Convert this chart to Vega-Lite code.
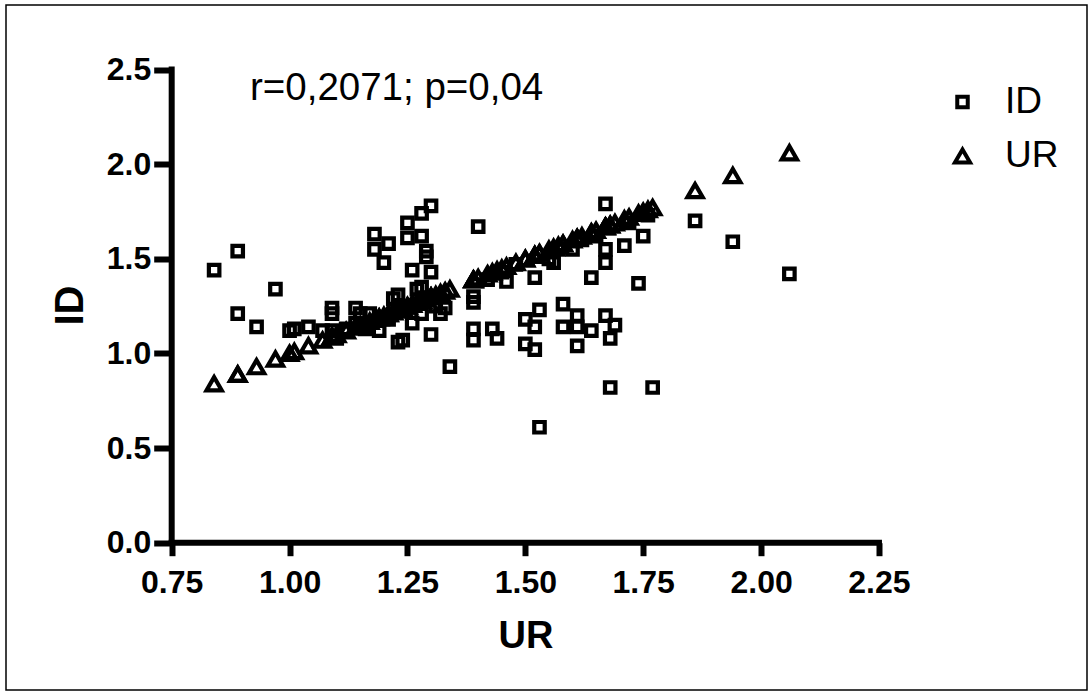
{
  "$schema": "https://vega.github.io/schema/vega-lite/v6.json",
  "width": 1081,
  "height": 685,
  "autosize": {"type": "none"},
  "padding": {"left": 6, "top": 5, "right": 5, "bottom": 2},
  "background": "white",
  "config": {
    "view": {"stroke": "black", "strokeWidth": 1.5},
    "font": "Liberation Sans",
    "axis": {"grid": false}
  },
  "datasets": {
    "subjects": [
      {"UR": 0.84, "ID": 1.44}, {"UR": 0.89, "ID": 1.54}, {"UR": 0.89, "ID": 1.21},
      {"UR": 0.93, "ID": 1.14}, {"UR": 0.97, "ID": 1.34}, {"UR": 1.00, "ID": 1.12},
      {"UR": 1.01, "ID": 1.13}, {"UR": 1.04, "ID": 1.14}, {"UR": 1.07, "ID": 1.12},
      {"UR": 1.09, "ID": 1.24}, {"UR": 1.09, "ID": 1.21}, {"UR": 1.09, "ID": 1.12},
      {"UR": 1.10, "ID": 1.08}, {"UR": 1.12, "ID": 1.13}, {"UR": 1.14, "ID": 1.24},
      {"UR": 1.14, "ID": 1.16}, {"UR": 1.15, "ID": 1.21}, {"UR": 1.16, "ID": 1.13},
      {"UR": 1.17, "ID": 1.21}, {"UR": 1.18, "ID": 1.63}, {"UR": 1.18, "ID": 1.55},
      {"UR": 1.19, "ID": 1.19}, {"UR": 1.19, "ID": 1.12}, {"UR": 1.20, "ID": 1.48},
      {"UR": 1.21, "ID": 1.58}, {"UR": 1.21, "ID": 1.18}, {"UR": 1.22, "ID": 1.29},
      {"UR": 1.23, "ID": 1.31}, {"UR": 1.23, "ID": 1.06}, {"UR": 1.24, "ID": 1.07},
      {"UR": 1.25, "ID": 1.61}, {"UR": 1.25, "ID": 1.69}, {"UR": 1.26, "ID": 1.44},
      {"UR": 1.26, "ID": 1.16}, {"UR": 1.27, "ID": 1.34}, {"UR": 1.28, "ID": 1.74},
      {"UR": 1.28, "ID": 1.62}, {"UR": 1.28, "ID": 1.35}, {"UR": 1.28, "ID": 1.21},
      {"UR": 1.29, "ID": 1.54}, {"UR": 1.29, "ID": 1.51}, {"UR": 1.30, "ID": 1.78},
      {"UR": 1.30, "ID": 1.43}, {"UR": 1.30, "ID": 1.10}, {"UR": 1.31, "ID": 1.25},
      {"UR": 1.32, "ID": 1.21}, {"UR": 1.33, "ID": 1.24}, {"UR": 1.34, "ID": 0.93},
      {"UR": 1.39, "ID": 1.30}, {"UR": 1.39, "ID": 1.27}, {"UR": 1.39, "ID": 1.13},
      {"UR": 1.39, "ID": 1.07}, {"UR": 1.40, "ID": 1.67}, {"UR": 1.42, "ID": 1.39},
      {"UR": 1.43, "ID": 1.13}, {"UR": 1.44, "ID": 1.08}, {"UR": 1.45, "ID": 1.43},
      {"UR": 1.46, "ID": 1.38}, {"UR": 1.48, "ID": 1.47}, {"UR": 1.50, "ID": 1.18},
      {"UR": 1.50, "ID": 1.05}, {"UR": 1.52, "ID": 1.40}, {"UR": 1.52, "ID": 1.02},
      {"UR": 1.52, "ID": 1.14}, {"UR": 1.53, "ID": 1.23}, {"UR": 1.53, "ID": 0.61},
      {"UR": 1.55, "ID": 1.50}, {"UR": 1.56, "ID": 1.48}, {"UR": 1.57, "ID": 1.55},
      {"UR": 1.58, "ID": 1.26}, {"UR": 1.58, "ID": 1.14}, {"UR": 1.60, "ID": 1.55},
      {"UR": 1.61, "ID": 1.20}, {"UR": 1.61, "ID": 1.14}, {"UR": 1.61, "ID": 1.04},
      {"UR": 1.62, "ID": 1.60}, {"UR": 1.64, "ID": 1.12}, {"UR": 1.64, "ID": 1.40},
      {"UR": 1.65, "ID": 1.62}, {"UR": 1.67, "ID": 1.79}, {"UR": 1.67, "ID": 1.55},
      {"UR": 1.67, "ID": 1.48}, {"UR": 1.67, "ID": 1.20}, {"UR": 1.68, "ID": 1.08},
      {"UR": 1.68, "ID": 0.82}, {"UR": 1.69, "ID": 1.15}, {"UR": 1.71, "ID": 1.57},
      {"UR": 1.72, "ID": 1.69}, {"UR": 1.74, "ID": 1.37}, {"UR": 1.75, "ID": 1.62},
      {"UR": 1.76, "ID": 1.73}, {"UR": 1.77, "ID": 0.82}, {"UR": 1.86, "ID": 1.70},
      {"UR": 1.94, "ID": 1.59}, {"UR": 2.06, "ID": 1.42}
    ]
  },
  "layer": [
    {
      "data": {"values": [{}]},
      "mark": {"type": "rule", "color": "black", "strokeWidth": 6, "strokeCap": "square"},
      "encoding": {
        "x": {"datum": 0.75, "type": "quantitative"},
        "x2": {"datum": 2.25},
        "y": {"datum": 0, "type": "quantitative"}
      }
    },
    {
      "data": {"values": [{}]},
      "mark": {"type": "rule", "color": "black", "strokeWidth": 6, "strokeCap": "square"},
      "encoding": {
        "x": {"datum": 0.75, "type": "quantitative"},
        "y": {"datum": 0, "type": "quantitative"},
        "y2": {"datum": 2.5}
      }
    },
    {
      "data": {"name": "subjects"},
      "transform": [
        {"fold": ["ID", "UR"], "as": ["series", "value"]},
        {"filter": "datum.series === 'ID'"}
      ],
      "mark": {"type": "point", "filled": false, "strokeWidth": 4.2, "opacity": 1, "color": "black"},
      "encoding": {
        "x": {
          "field": "UR",
          "type": "quantitative",
          "scale": {"domain": [0.3986, 2.6912], "nice": false, "zero": false},
          "axis": {
            "values": [0.75, 1, 1.25, 1.5, 1.75, 2, 2.25],
            "format": ".2f",
            "domain": false,
            "offset": -147.3,
            "tickSize": 13,
            "tickWidth": 6,
            "tickColor": "black",
            "labelFont": "Liberation Sans",
            "labelFontWeight": "bold",
            "labelFontSize": 32,
            "labelColor": "black",
            "labelPadding": 12,
            "labelFlush": false,
            "labelOverlap": false,
            "title": "UR",
            "titleFont": "Liberation Sans",
            "titleFontSize": 38,
            "titleFontWeight": "bold",
            "titleColor": "black",
            "titleX": 519.5,
            "titleY": 104.3,
            "titleBaseline": "alphabetic",
            "titleAlign": "center"
          }
        },
        "y": {
          "field": "value",
          "type": "quantitative",
          "scale": {"domain": [-0.7782, 2.8408], "nice": false, "zero": false},
          "axis": {
            "values": [0, 0.5, 1, 1.5, 2, 2.5],
            "format": ".1f",
            "domain": false,
            "offset": -165.7,
            "tickSize": 18,
            "tickWidth": 6,
            "tickColor": "black",
            "labelFont": "Liberation Sans",
            "labelFontWeight": "bold",
            "labelFontSize": 32,
            "labelColor": "black",
            "labelPadding": 3,
            "labelFlush": false,
            "labelOverlap": false,
            "title": "ID",
            "titleFont": "Liberation Sans",
            "titleFontSize": 40,
            "titleFontWeight": "bold",
            "titleColor": "black",
            "titleAngle": -90,
            "titleX": -89.7,
            "titleY": 300,
            "titleBaseline": "alphabetic",
            "titleAlign": "center"
          }
        },
        "shape": {
          "field": "series",
          "type": "nominal",
          "scale": {"domain": ["ID", "UR"], "range": ["square", "triangle-up"]},
          "legend": {
            "orient": "none",
            "legendX": 938,
            "legendY": 78.5,
            "title": null,
            "padding": 0,
            "labelFont": "Liberation Sans",
            "labelFontSize": 37,
            "labelColor": "black",
            "labelOffset": 24,
            "rowPadding": 16,
            "symbolStrokeWidth": 4,
            "symbolStrokeColor": "black",
            "symbolFillColor": "transparent"
          }
        },
        "size": {
          "field": "series",
          "type": "nominal",
          "scale": {"domain": ["ID", "UR"], "range": [110, 230]},
          "legend": {
            "orient": "none",
            "legendX": 938,
            "legendY": 78.5,
            "title": null,
            "padding": 0,
            "labelFont": "Liberation Sans",
            "labelFontSize": 37,
            "labelColor": "black",
            "labelOffset": 24,
            "rowPadding": 16,
            "symbolStrokeWidth": 4,
            "symbolStrokeColor": "black",
            "symbolFillColor": "transparent"
          }
        }
      }
    },
    {
      "data": {"name": "subjects"},
      "transform": [
        {"fold": ["ID", "UR"], "as": ["series", "value"]},
        {"filter": "datum.series === 'UR'"}
      ],
      "mark": {"type": "point", "filled": false, "strokeWidth": 4.2, "opacity": 1, "color": "black"},
      "encoding": {
        "x": {"field": "UR", "type": "quantitative"},
        "y": {"field": "value", "type": "quantitative"},
        "shape": {"field": "series", "type": "nominal"},
        "size": {"field": "series", "type": "nominal"}
      }
    },
    {
      "data": {"values": [{}]},
      "mark": {"type": "text", "text": "r=0,2071; p=0,04", "font": "Liberation Sans", "fontSize": 38.5, "align": "left", "baseline": "alphabetic", "color": "black"},
      "encoding": {
        "x": {"datum": 0.916, "type": "quantitative"},
        "y": {"datum": 2.339, "type": "quantitative"}
      }
    }
  ]
}
